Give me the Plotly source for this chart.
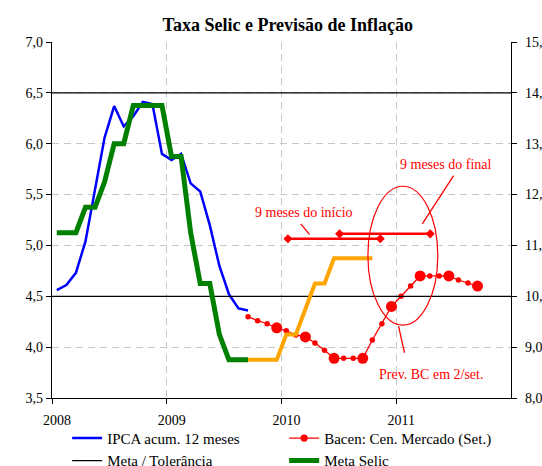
import plotly.graph_objects as go

# ---------------- data ----------------
START_YEAR = 2008
YEAR_TICKS = [2008, 2009, 2010, 2011]
YEAR_LABELS = ["2008", "2009", "2010", "2011"]

# IPCA acumulado 12 meses, Jan/2008 .. Sep/2009 (month index 0..20)
IPCA_START = 0
IPCA = [4.56, 4.61, 4.73, 5.04, 5.55, 6.06, 6.37, 6.17, 6.27, 6.41, 6.39,
        5.90, 5.84, 5.90, 5.61, 5.53, 5.20, 4.80, 4.52, 4.38, 4.36]

# Meta Selic (right axis), Jan/2008 .. Sep/2009
SELIC_START = 0
SELIC = [11.25, 11.25, 11.25, 11.75, 11.75, 12.25, 13.00, 13.00, 13.75, 13.75,
         13.75, 13.75, 12.75, 12.75, 11.25, 10.25, 10.25, 9.25, 8.75, 8.75, 8.75]

# Expected Selic path (right axis), Sep/2009 .. Oct/2010
SELIC_EXP_START = 20
SELIC_EXP = [8.75, 8.75, 8.75, 8.75, 9.25, 9.25, 9.75, 10.25, 10.25,
             10.75, 10.75, 10.75, 10.75, 10.75]

# Bacen: Cenário de Mercado (Set.) – IPCA expectations, Sep/2009 .. Sep/2011
BACEN_START = 20
BACEN = [4.30, 4.26, 4.23, 4.19, 4.16, 4.12, 4.10, 4.04, 3.97, 3.89, 3.89,
         3.89, 3.89, 4.07, 4.23, 4.40, 4.50, 4.60, 4.70, 4.70, 4.70, 4.70,
         4.66, 4.63, 4.60]
BACEN_QUARTERLY = [False, False, False, True, False, False, True, False, False,
                   True, False, False, True, False, False, True, False, False,
                   True, False, False, True, False, False, True]

# Meta / Tolerância
META = 4.5
TOLERANCIA = 6.5

# annotation helpers (year, value)
BAR_INICIO_X = [2010.056, 2010.861]
BAR_INICIO_Y = [5.065, 5.065]
BAR_FINAL_X = [2010.506, 2011.296]
BAR_FINAL_Y = [5.114, 5.114]


def month_x(start, n):
    return [START_YEAR + (start + k + 0.5) / 12 for k in range(n)]


RED = "#FF0000"
FONT = "Liberation Serif"

fig = go.Figure()

fig.add_trace(go.Scatter(
    x=month_x(IPCA_START, len(IPCA)), y=IPCA, mode="lines",
    line=dict(color="#0000FF", width=2.5), name="IPCA acum. 12 meses"))

fig.add_trace(go.Scatter(
    x=month_x(BACEN_START, len(BACEN)), y=BACEN, mode="lines+markers",
    line=dict(color=RED, width=1.3),
    marker=dict(color=RED, opacity=1, line=dict(width=0),
                size=[11 if q else 5.5 for q in BACEN_QUARTERLY]),
    name="Bacen: Cen. Mercado (Set.)"))

fig.add_trace(go.Scatter(
    x=[2008, 2012, None, 2008, 2012],
    y=[TOLERANCIA, TOLERANCIA, None, META, META], mode="lines",
    line=dict(color="#000000", width=1.3), name="Meta / Tolerância"))

fig.add_trace(go.Scatter(
    x=month_x(SELIC_START, len(SELIC)), y=SELIC, mode="lines", yaxis="y2",
    line=dict(color="#008000", width=5), name="Meta Selic"))

fig.add_trace(go.Scatter(
    x=month_x(SELIC_EXP_START, len(SELIC_EXP)), y=SELIC_EXP, mode="lines",
    yaxis="y2", line=dict(color="#FFA500", width=4), showlegend=False))

# horizontal "9 meses" bars
for bx, by in [(BAR_INICIO_X, BAR_INICIO_Y), (BAR_FINAL_X, BAR_FINAL_Y)]:
    fig.add_trace(go.Scatter(
        x=bx, y=by, mode="lines+markers", showlegend=False,
        line=dict(color=RED, width=2.5),
        marker=dict(color=RED, size=7, symbol="diamond")))

# ellipse and leader lines
fig.add_shape(type="circle", xref="x", yref="y",
              x0=2010.753, x1=2011.362, y0=4.216, y1=5.582,
              line=dict(color=RED, width=1.2))
for (x0, y0, x1, y1) in [(2010.168, 5.212, 2010.245, 5.107),
                         (2011.500, 5.687, 2011.227, 5.212),
                         (2011.020, 4.206, 2011.072, 3.945)]:
    fig.add_shape(type="line", xref="x", yref="y", x0=x0, y0=y0, x1=x1, y1=y1,
                  line=dict(color=RED, width=1.3))

for txt, x, y in [("9 meses do início", 2010.192, 5.326),
                  ("9 meses do final", 2011.429, 5.795),
                  ("Prev. BC em 2/set.", 2011.307, 3.732)]:
    fig.add_annotation(x=x, y=y, xref="x", yref="y", text=txt, showarrow=False,
                       font=dict(family=FONT, size=14, color=RED),
                       xanchor="center", yanchor="middle")

grid = dict(showgrid=True, gridcolor="#C8C8C8", griddash="7px,5px", gridwidth=1)

fig.update_layout(
    width=542, height=466,
    margin=dict(l=52, r=31, t=42, b=68, autoexpand=False),
    paper_bgcolor="white", plot_bgcolor="white",
    separators=",.",
    font=dict(family=FONT, size=14, color="#000000"),
    title=dict(text="<b>Taxa Selic e Previsão de Inflação</b>",
               font=dict(family=FONT, size=18, color="#000000"),
               x=0.531, xanchor="center", y=0.946, yanchor="middle"),
    xaxis=dict(range=[2008, 2012], tickvals=YEAR_TICKS, ticktext=YEAR_LABELS,
               showline=True, linecolor="#000000", linewidth=1.3,
               ticks="outside", ticklen=5, tickcolor="#000000",
               ticklabelstandoff=4, ticklabelshift=5, zeroline=False, **grid),
    yaxis=dict(range=[3.5, 7.0], dtick=0.5, tickformat=".1f",
               showline=True, linecolor="#000000", linewidth=1.3,
               ticks="outside", ticklen=5, tickcolor="#000000",
               zeroline=False, **grid),
    yaxis2=dict(range=[8, 15], dtick=1, tickformat=".2f", overlaying="y",
                side="right", showgrid=False, showline=True,
                linecolor="#000000", linewidth=1.3, ticks="outside",
                ticklen=5, tickcolor="#000000", zeroline=False,
                ticklabelstandoff=5),
    legend=dict(orientation="h", x=0.033, xanchor="left", y=-0.067,
                yanchor="top", entrywidth=172, entrywidthmode="pixels",
                itemwidth=30, font=dict(family=FONT, size=15),
                bgcolor="rgba(0,0,0,0)", tracegroupgap=0),
)

fig.write_html(
    "out.html",
    config={"staticPlot": True, "displayModeBar": False},
    post_script="document.body.style.margin='0';"
                "document.body.style.overflow='hidden';",
)
